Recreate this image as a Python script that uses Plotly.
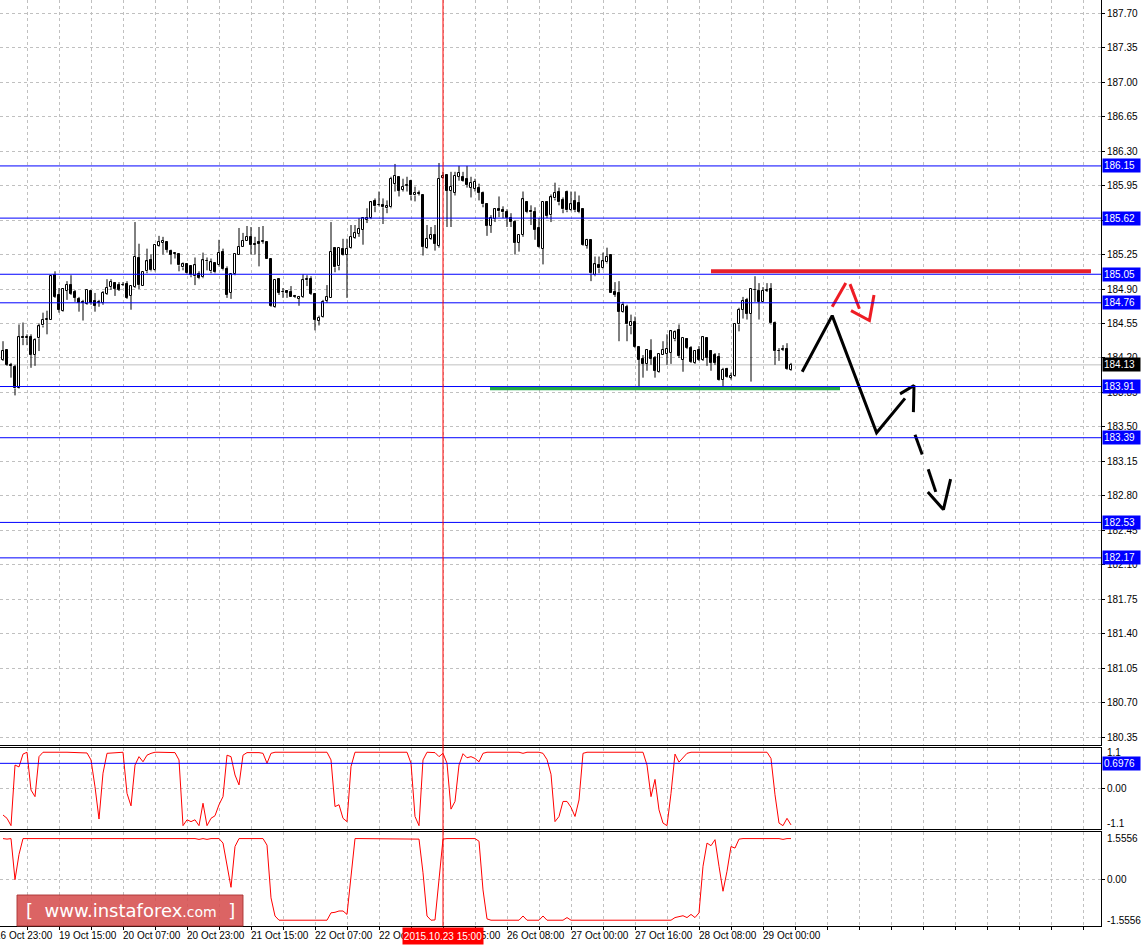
import plotly.graph_objects as go

# ---------------- data (H1 candles, bar index 0..197) ----------------
opens = [184.18, 184.28, 184.13, 184.11, 183.90, 184.41, 184.40, 184.41, 184.23, 184.40,
         184.53, 184.59, 184.59, 185.04, 184.84, 184.68, 184.88, 184.94, 184.87, 184.80,
         184.77, 184.75, 184.88, 184.78, 184.76, 184.76, 184.85, 184.92, 184.96, 184.94,
         184.94, 184.95, 184.83, 184.92, 185.22, 184.93, 185.08, 185.19, 185.09, 185.34,
         185.37, 185.38, 185.29, 185.26, 185.26, 185.12, 185.15, 185.13, 185.03, 185.05,
         185.02, 185.18, 185.08, 185.16, 185.14, 185.28, 185.10, 184.86, 185.05, 185.25,
         185.33, 185.39, 185.43, 185.36, 185.38, 185.38, 185.38, 185.21, 184.72, 185.00,
         184.87, 184.88, 184.87, 184.83, 184.80, 184.82, 184.99, 185.00, 184.85, 184.58,
         184.62, 184.78, 184.81, 185.32, 185.13, 185.31, 185.25, 185.32, 185.42, 185.46,
         185.50, 185.60, 185.62, 185.79, 185.75, 185.75, 185.72, 185.73, 185.97, 186.04,
         185.91, 185.95, 186.00, 185.85, 185.87, 185.85, 185.32, 185.41, 185.45, 185.34,
         186.03, 186.06, 185.90, 185.88, 186.04, 186.04, 186.02, 185.93, 185.92, 185.93,
         185.88, 185.76, 185.54, 185.61, 185.71, 185.70, 185.68, 185.62, 185.58, 185.37,
         185.45, 185.78, 185.69, 185.68, 185.52, 185.31, 185.78, 185.65, 185.82, 185.89,
         185.80, 185.89, 185.70, 185.79, 185.77, 185.71, 185.34, 185.40, 185.04, 185.14,
         185.11, 185.17, 185.25, 184.87, 184.86, 184.67, 184.72, 184.52, 184.57, 184.31,
         184.19, 184.14, 184.27, 184.20, 184.06, 184.23, 184.24, 184.25, 184.39, 184.48,
         184.18, 184.39, 184.30, 184.15, 184.28, 184.18, 184.40, 184.27, 184.23, 184.21,
         183.98, 184.09, 184.00, 184.02, 184.54, 184.69, 184.79, 184.65, 184.89, 184.88,
         184.77, 184.88, 184.90, 184.56, 184.27, 184.28, 184.29, 184.08]

highs = [184.37, 184.28, 184.15, 184.13, 184.54, 184.56, 184.44, 184.44, 184.40, 184.55,
         184.66, 184.68, 185.04, 185.08, 184.91, 184.91, 184.98, 185.04, 184.89, 184.82,
         184.79, 184.89, 184.88, 184.86, 184.79, 184.88, 185.00, 185.00, 184.97, 184.97,
         184.97, 184.98, 184.93, 185.58, 185.36, 185.07, 185.31, 185.25, 185.35, 185.44,
         185.43, 185.38, 185.30, 185.27, 185.26, 185.17, 185.15, 185.14, 185.22, 185.08,
         185.27, 185.22, 185.21, 185.16, 185.40, 185.31, 185.13, 185.05, 185.26, 185.52,
         185.47, 185.54, 185.53, 185.43, 185.53, 185.54, 185.38, 185.21, 184.99, 185.00,
         184.91, 184.89, 184.93, 184.84, 184.83, 185.05, 185.04, 185.03, 184.86, 184.63,
         184.79, 184.94, 185.58, 185.32, 185.32, 185.41, 185.41, 185.55, 185.55, 185.62,
         185.63, 185.72, 185.79, 185.82, 185.89, 185.82, 185.80, 186.04, 186.17, 186.04,
         186.02, 186.04, 186.01, 185.94, 185.90, 185.85, 185.55, 185.53, 185.55, 186.18,
         186.09, 186.06, 186.09, 186.09, 186.15, 186.09, 186.15, 186.04, 186.02, 185.97,
         185.89, 185.77, 185.65, 185.72, 185.84, 185.74, 185.71, 185.67, 185.60, 185.45,
         185.89, 185.79, 185.75, 185.73, 185.62, 185.78, 185.79, 185.86, 185.98, 185.93,
         185.83, 185.90, 185.89, 185.89, 185.85, 185.71, 185.41, 185.40, 185.23, 185.23,
         185.27, 185.32, 185.25, 184.97, 184.98, 184.77, 184.74, 184.64, 184.62, 184.31,
         184.23, 184.29, 184.39, 184.22, 184.24, 184.37, 184.44, 184.48, 184.48, 184.54,
         184.40, 184.40, 184.32, 184.28, 184.32, 184.42, 184.40, 184.28, 184.25, 184.25,
         184.10, 184.10, 184.05, 184.54, 184.71, 184.82, 184.81, 184.90, 185.03, 184.96,
         184.92, 184.96, 184.96, 184.57, 184.30, 184.33, 184.35, 184.15]

lows = [184.17, 184.12, 184.00, 183.82, 183.89, 184.33, 184.33, 184.10, 184.12, 184.27,
        184.51, 184.44, 184.59, 184.81, 184.66, 184.67, 184.79, 184.84, 184.77, 184.67,
        184.58, 184.74, 184.74, 184.67, 184.72, 184.74, 184.84, 184.89, 184.83, 184.88,
        184.93, 184.80, 184.69, 184.91, 184.90, 184.93, 185.06, 185.08, 185.08, 185.33,
        185.25, 185.27, 185.15, 185.21, 185.08, 185.09, 185.05, 185.02, 184.94, 185.00,
        185.01, 185.09, 185.06, 185.06, 185.13, 185.09, 184.81, 184.80, 185.04, 185.25,
        185.33, 185.39, 185.25, 185.25, 185.13, 185.36, 185.21, 184.72, 184.71, 184.84,
        184.81, 184.81, 184.82, 184.81, 184.73, 184.81, 184.93, 184.84, 184.48, 184.53,
        184.61, 184.76, 184.81, 185.07, 185.09, 185.24, 184.81, 185.31, 185.41, 185.43,
        185.35, 185.57, 185.61, 185.68, 185.74, 185.56, 185.67, 185.72, 185.89, 185.84,
        185.89, 185.89, 185.80, 185.79, 185.85, 185.24, 185.31, 185.40, 185.29, 185.32,
        186.02, 185.53, 185.53, 185.85, 186.00, 185.99, 185.93, 185.83, 185.89, 185.80,
        185.73, 185.44, 185.47, 185.58, 185.63, 185.62, 185.53, 185.53, 185.25, 185.28,
        185.43, 185.67, 185.55, 185.40, 185.32, 185.15, 185.62, 185.58, 185.80, 185.75,
        185.67, 185.68, 185.69, 185.68, 185.67, 185.34, 185.31, 184.98, 185.03, 185.06,
        185.10, 185.16, 184.86, 184.82, 184.37, 184.66, 184.37, 184.44, 184.30, 183.91,
        184.00, 184.07, 184.13, 184.00, 184.05, 184.23, 184.13, 184.14, 184.37, 184.20,
        184.06, 184.29, 184.15, 184.14, 184.17, 184.17, 184.12, 184.07, 184.13, 183.97,
        183.90, 184.00, 183.98, 184.01, 184.47, 184.60, 184.59, 183.96, 184.77, 184.59,
        184.77, 184.87, 184.54, 184.13, 184.17, 184.27, 184.08, 184.07]

closes = [184.27, 184.13, 184.12, 183.89, 184.41, 184.40, 184.41, 184.23, 184.38, 184.52,
          184.59, 184.60, 185.03, 184.82, 184.69, 184.90, 184.94, 184.85, 184.81, 184.76,
          184.76, 184.89, 184.76, 184.73, 184.76, 184.86, 184.91, 184.97, 184.90, 184.89,
          184.94, 184.81, 184.93, 185.23, 184.94, 185.07, 185.18, 185.09, 185.35, 185.38,
          185.39, 185.30, 185.25, 185.26, 185.14, 185.15, 185.06, 185.04, 185.14, 185.01,
          185.19, 185.18, 185.17, 185.07, 185.27, 185.10, 184.84, 185.05, 185.26, 185.33,
          185.39, 185.43, 185.35, 185.35, 185.36, 185.39, 185.21, 184.73, 184.99, 184.86,
          184.87, 184.86, 184.82, 184.82, 184.82, 184.99, 185.00, 184.85, 184.59, 184.61,
          184.77, 184.82, 185.28, 185.12, 185.32, 185.25, 185.31, 185.43, 185.47, 185.51,
          185.62, 185.62, 185.78, 185.74, 185.75, 185.73, 185.74, 186.02, 186.05, 185.90,
          185.94, 185.95, 185.85, 185.88, 185.87, 185.33, 185.41, 185.45, 185.36, 186.02,
          186.05, 185.90, 185.94, 186.05, 186.08, 186.00, 185.96, 185.98, 185.99, 185.88,
          185.76, 185.54, 185.62, 185.71, 185.69, 185.68, 185.62, 185.58, 185.37, 185.45,
          185.81, 185.68, 185.68, 185.50, 185.33, 185.78, 185.64, 185.83, 185.88, 185.78,
          185.71, 185.70, 185.76, 185.70, 185.68, 185.35, 185.40, 185.06, 185.15, 185.11,
          185.18, 185.23, 184.86, 184.84, 184.67, 184.74, 184.54, 184.57, 184.31, 184.18,
          184.14, 184.28, 184.19, 184.07, 184.24, 184.28, 184.29, 184.47, 184.46, 184.22,
          184.40, 184.30, 184.16, 184.27, 184.18, 184.41, 184.20, 184.15, 184.15, 183.98,
          184.08, 184.01, 184.02, 184.54, 184.69, 184.78, 184.65, 184.90, 184.89, 184.77,
          184.88, 184.89, 184.55, 184.27, 184.27, 184.29, 184.09, 184.13]

ind1 = [-0.71, -0.80, -1.00, 0.65, 0.60, 0.95, 1.00, -0.03, -0.21, 0.88,
        1.00, 0.99, 1.00, 1.00, 0.99, 1.00, 1.00, 1.00, 0.99, 1.00,
        1.00, 0.98, 0.79, 0.06, -0.82, 0.43, 0.97, 0.98, 0.98, 0.99,
        1.00, -0.12, -0.46, 0.65, 0.88, 0.74, 0.92, 0.97, 1.00, 1.00,
        1.00, 1.00, 1.00, 0.99, 0.79, -1.00, -0.84, -0.89, -0.84, -1.00,
        -0.39, -1.00, -0.80, -0.73, -0.43, -0.21, 0.92, 0.88, 0.38, 0.11,
        0.92, 0.99, 0.99, 1.00, 0.99, 0.97, 0.70, 0.97, 1.00, 1.00,
        1.00, 1.00, 1.00, 1.00, 1.00, 1.00, 1.00, 1.00, 1.00, 1.00,
        1.00, 1.00, 0.79, -0.48, -0.43, -0.80, -0.89, 0.61, 1.00, 1.00,
        1.00, 1.00, 1.00, 1.00, 1.00, 1.00, 1.00, 1.00, 1.00, 1.00,
        1.00, 1.00, 0.70, -0.75, -1.00, 0.79, 1.00, 1.00, 0.99, 0.88,
        0.97, 0.70, -0.55, -0.34, 0.65, 0.96, 0.85, 0.88, 0.83, 0.74,
        0.97, 1.00, 1.00, 1.00, 1.00, 1.00, 1.00, 1.00, 1.00, 1.00,
        0.97, 1.00, 1.00, 1.00, 1.00, 0.97, 0.80, 0.40, -0.89, -0.75,
        -0.34, -0.34, -0.50, -0.75, -0.30, 0.97, 1.00, 1.00, 1.00, 1.00,
        1.00, 1.00, 1.00, 1.00, 1.00, 1.00, 1.00, 1.00, 0.98, 1.00,
        1.00, 0.65, -0.21, 0.26, -0.57, -0.93, -1.00, -0.12, 0.95, 0.73,
        0.85, 0.97, 1.00, 1.00, 1.00, 1.00, 1.00, 1.00, 1.00, 1.00,
        1.00, 1.00, 1.00, 1.00, 1.00, 1.00, 1.00, 1.00, 1.00, 1.00,
        1.00, 1.00, 0.83, -0.16, -0.93, -1.00, -0.80, -0.98]

ind2 = [1.55, 1.53, 1.55, -0.01, 0.95, 1.55, 1.55, 1.55, 1.55, 1.55,
        1.55, 1.55, 1.55, 1.55, 1.55, 1.55, 1.55, 1.55, 1.55, 1.55,
        1.55, 1.55, 1.55, 1.55, 1.55, 1.55, 1.55, 1.55, 1.55, 1.55,
        1.55, 1.55, 1.55, 1.55, 1.55, 1.55, 1.55, 1.55, 1.55, 1.55,
        1.55, 1.55, 1.55, 1.55, 1.55, 1.55, 1.55, 1.55, 1.55, 1.52,
        1.55, 1.52, 1.55, 1.55, 1.55, 1.38, 0.50, -0.30, 1.25, 1.55,
        1.55, 1.55, 1.55, 1.55, 1.55, 1.55, 1.30, -0.70, -1.39, -1.55,
        -1.55, -1.55, -1.55, -1.55, -1.55, -1.55, -1.55, -1.55, -1.55, -1.55,
        -1.55, -1.55, -1.27, -1.25, -1.20, -1.20, -1.33, 0.25, 1.55, 1.55,
        1.55, 1.55, 1.55, 1.55, 1.55, 1.55, 1.53, 1.55, 1.55, 1.55,
        1.55, 1.55, 1.55, 1.55, 1.53, 0.25, -1.39, -1.55, -1.54, -0.01,
        1.53, 1.55, 1.55, 1.53, 1.55, 1.55, 1.55, 1.55, 1.55, 1.45,
        -0.40, -1.50, -1.55, -1.55, -1.55, -1.55, -1.55, -1.55, -1.55, -1.55,
        -1.39, -1.55, -1.55, -1.55, -1.55, -1.39, -1.55, -1.55, -1.55, -1.55,
        -1.55, -1.45, -1.55, -1.55, -1.55, -1.55, -1.55, -1.55, -1.55, -1.55,
        -1.55, -1.55, -1.55, -1.55, -1.55, -1.55, -1.55, -1.55, -1.55, -1.55,
        -1.55, -1.55, -1.55, -1.55, -1.55, -1.55, -1.55, -1.55, -1.45, -1.40,
        -1.38, -1.45, -1.33, -1.45, -1.27, 0.50, 1.38, 1.28, 1.51, 0.50,
        -0.45, 0.31, 1.25, 1.19, 1.53, 1.55, 1.55, 1.55, 1.55, 1.55,
        1.55, 1.55, 1.55, 1.55, 1.55, 1.52, 1.55, 1.55]

levels = [186.15, 185.62, 185.05, 184.76, 183.91, 183.39, 182.53, 182.17]
bid_price = 184.13
ind1_level = 0.6976
price_ticks = [180.35, 180.70, 181.05, 181.40, 181.75, 182.10, 182.45, 182.80, 183.15,
               183.50, 183.85, 184.20, 184.55, 184.90, 185.25, 185.60, 185.95, 186.30,
               186.65, 187.00, 187.35, 187.70]
date_tick_idx = [-2, 14, 30, 46, 62, 78, 94, 110, 126, 142, 158, 174, 190]
date_tick_text = ["16 Oct 23:00", "19 Oct 15:00", "20 Oct 07:00", "20 Oct 23:00",
                  "21 Oct 15:00", "22 Oct 07:00", "22 Oct 23:00", "23 Oct 15:00",
                  "26 Oct 08:00", "27 Oct 00:00", "27 Oct 16:00", "28 Oct 08:00",
                  "29 Oct 00:00"]
cursor_idx = 110
cursor_text = "2015.10.23 15:00"

# hand drawn analysis marks (bar index, price)
resistance_line = ([177, 272], [185.08, 185.08])
support_line = ([121.75, 209.25], [183.89, 183.89])
black_segments = [
    ([199.8, 207.3, 218.4, 225.5], [184.06, 184.63, 183.44, 183.79]),
    ([224.25, 227.75, 227.6], [183.835, 183.92, 183.65]),
    ([228.0, 229.8], [183.42, 183.22]),
    ([231.3, 233.2], [183.07, 182.84]),
    ([231.2, 235.1, 236.9], [182.84, 182.66, 182.97]),
]
red_segments = [
    ([207.3, 210.7], [184.72, 184.96]),
    ([211.75, 214.1], [184.95, 184.70]),
    ([212.0, 216.6, 217.75], [184.68, 184.58, 184.84]),
]

# ---------------- figure ----------------
N = len(closes)
idx = list(range(N))
XMIN, XMAX = -0.75, 274.5
FONT = "Liberation Sans"
FS = 10

body_base = [min(o, c) for o, c in zip(opens, closes)]
body_h = [max(abs(c - o), 0.004) for o, c in zip(opens, closes)]
body_col = ["#FFFFFF" if c >= o else "#000000" for o, c in zip(opens, closes)]

wx, wy = [], []
for i, (o, h, l, c) in enumerate(zip(opens, highs, lows, closes)):
    top, bot = max(o, c), min(o, c)
    if h > top:
        wx += [i, i, None]; wy += [top, h, None]
    if l < bot:
        wx += [i, i, None]; wy += [l, bot, None]

fig = go.Figure()
fig.add_trace(go.Scatter(x=wx, y=wy, mode="lines", line=dict(color="black", width=1),
                         xaxis="x", yaxis="y", hoverinfo="skip"))
fig.add_trace(go.Bar(x=idx, y=body_h, base=body_base, width=0.7,
                     marker=dict(color=body_col, line=dict(color="black", width=1)),
                     xaxis="x", yaxis="y"))

# drawings
fig.add_trace(go.Scatter(x=resistance_line[0], y=resistance_line[1], mode="lines",
                         line=dict(color="#E8202A", width=4), xaxis="x", yaxis="y"))
fig.add_trace(go.Scatter(x=support_line[0], y=support_line[1], mode="lines",
                         line=dict(color="#22AA48", width=3.5), xaxis="x", yaxis="y"))
bx, by = [], []
for xs, ys in black_segments:
    bx += xs + [None]; by += ys + [None]
fig.add_trace(go.Scatter(x=bx, y=by, mode="lines", line=dict(color="black", width=3),
                         xaxis="x", yaxis="y"))
rx, ry = [], []
for xs, ys in red_segments:
    rx += xs + [None]; ry += ys + [None]
fig.add_trace(go.Scatter(x=rx, y=ry, mode="lines", line=dict(color="#EE1C24", width=3),
                         xaxis="x", yaxis="y"))

# indicators
fig.add_trace(go.Scatter(x=idx, y=ind1, mode="lines", line=dict(color="#FF0000", width=1),
                         xaxis="x2", yaxis="y2"))
fig.add_trace(go.Scatter(x=idx, y=ind2, mode="lines", line=dict(color="#FF0000", width=1),
                         xaxis="x3", yaxis="y3"))

grid = dict(showgrid=True, gridcolor="#C0C0C0", gridwidth=1, griddash="3px,3px")
xcommon = dict(range=[XMIN, XMAX], tick0=6, dtick=8, showticklabels=False, zeroline=False,
               showline=True, linecolor="black", linewidth=1, mirror=True, **grid)
ycommon = dict(side="right", zeroline=False, showline=True, linecolor="black", linewidth=1,
               mirror=True, ticks="outside", ticklen=3, tickcolor="black",
               tickfont=dict(family=FONT, size=FS, color="black"), **grid)

D1 = [0.1955, 1.0]
D2 = [0.1048, 0.1922]
D3 = [0.0, 0.1015]

fig.update_layout(
    width=1142, height=946, margin=dict(l=0, r=41, t=0, b=20),
    paper_bgcolor="white", plot_bgcolor="white", showlegend=False,
    xaxis=dict(domain=[0, 1], anchor="y", ticks="", **xcommon),
    xaxis2=dict(domain=[0, 1], anchor="y2", matches="x", ticks="", **xcommon),
    xaxis3=dict(domain=[0, 1], anchor="y3", matches="x", ticks="outside", ticklen=3,
                tickcolor="black", **xcommon),
    yaxis=dict(domain=D1, anchor="x", range=[180.27, 187.835], tickvals=price_ticks,
               ticktext=[f"{v:.2f}" for v in price_ticks], **ycommon),
    yaxis2=dict(domain=D2, anchor="x2", range=[-1.09, 1.115], tickvals=[0],
                ticktext=["0.00"], **ycommon),
    yaxis3=dict(domain=D3, anchor="x3", range=[-1.77, 1.80], tickvals=[0],
                ticktext=["0.00"], **ycommon),
    bargap=0,
)

shapes = []
for lv in levels:
    shapes.append(dict(type="line", xref="x", yref="y", x0=XMIN, x1=XMAX, y0=lv, y1=lv,
                       line=dict(color="#0000FF", width=1)))
shapes.append(dict(type="line", xref="x", yref="y", x0=XMIN, x1=XMAX, y0=bid_price,
                   y1=bid_price, line=dict(color="#C0C0C0", width=1), layer="between"))
shapes.append(dict(type="line", xref="x2", yref="y2", x0=XMIN, x1=XMAX, y0=ind1_level,
                   y1=ind1_level, line=dict(color="#0000FF", width=1)))
shapes.append(dict(type="line", xref="x", yref="paper", x0=cursor_idx, x1=cursor_idx,
                   y0=0, y1=1, line=dict(color="#FF0000", width=1)))
# watermark box
shapes.append(dict(type="rect", xref="paper", yref="paper", x0=17 / 1101, x1=243 / 1101,
                   y0=0.0, y1=31 / 926, fillcolor="rgba(214,78,78,0.88)",
                   line=dict(color="rgba(170,50,50,0.9)", width=1)))
fig.update_layout(shapes=shapes)

ann = []
def box(text, y, yref, bg):
    return dict(text=text, xref="paper", x=1, xanchor="left", xshift=1, y=y, yref=yref,
                yanchor="middle", showarrow=False, bgcolor=bg, borderpad=1, width=35,
                align="left", font=dict(family=FONT, size=FS, color="white"))

for lv in levels:
    ann.append(box(f"{lv:.2f}", lv, "y", "#0000FF"))
ann.append(box(f"{bid_price:.2f}", bid_price, "y", "#000000"))
ann.append(box(f"{ind1_level:.4f}", ind1_level, "y2", "#0000FF"))

def plain(text, y, yref):
    return dict(text=text, xref="paper", x=1, xanchor="left", xshift=4, y=y, yref=yref,
                yanchor="middle", showarrow=False,
                font=dict(family=FONT, size=FS, color="black"))

ann.append(plain("1.1", 1.0, "y2"))
ann.append(plain("-1.1", -0.95, "y2"))
ann.append(plain("1.5556", 1.5556, "y3"))
ann.append(plain("-1.5556", -1.5556, "y3"))

for t, lab in zip(date_tick_idx, date_tick_text):
    px = (t - XMIN) / (XMAX - XMIN)
    ann.append(dict(text=lab, xref="paper", yref="paper", x=px, y=0, xanchor="left",
                    yanchor="top", yshift=-2, xshift=-2, showarrow=False,
                    font=dict(family=FONT, size=FS, color="black")))

ann.append(dict(text=cursor_text, xref="paper", yref="paper",
                x=(cursor_idx - XMIN) / (XMAX - XMIN), y=0, xanchor="center",
                yanchor="top", yshift=-1, showarrow=False, bgcolor="#FF0000",
                width=78, height=14, borderpad=1,
                font=dict(family=FONT, size=FS, color="white")))

ann.append(dict(text="[  www.instaforex<span style='font-size:14px'>.com</span>  ]",
                xref="paper", yref="paper", x=130 / 1101, y=15.5 / 926, xanchor="center",
                yanchor="middle", showarrow=False,
                font=dict(family="DejaVu Sans", size=18, color="white")))

fig.update_layout(annotations=ann)
fig.write_html("out.html",
               config={"displayModeBar": False},
               post_script="document.body.style.margin='0px';"
                           "document.body.style.padding='0px';"
                           "document.body.style.overflow='hidden';")
